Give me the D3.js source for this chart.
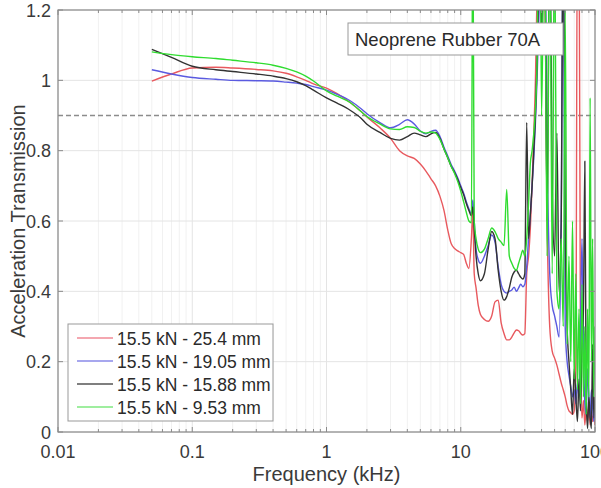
<!DOCTYPE html>
<html>
<head>
<meta charset="utf-8">
<script src="https://cdn.jsdelivr.net/npm/d3@7"></script>
<style>
  html, body { margin: 0; padding: 0; background: #fff; }
  svg { display: block; font-family: "Liberation Sans", Arial, Helvetica, sans-serif; }
</style>
</head>
<body>
<svg id="chart" width="601" height="488"></svg>
<script>
// ---------------- data ----------------
const freqKHz = [0.05,0.07,0.1,0.15,0.2,0.3,0.4,0.5,0.6,0.7,0.8,
  1,1.2,1.5,1.8,2,2.5,
  3,3.5,4,4.5,5,5.5,6,6.5,7,7.5,8,8.5,9,9.5,10,
  10.5,11,11.5,12,12.3,12.6,13,13.5,14,
  15,16,17,18,19,20,21,22,23,24,25,26,27,28,29,30,31,32,33,34,35,36,37,38,39,40,
  42,44,46,48,50,52,54,56,58,60,62,64,66,68,70,72,74,76,78,80,82,84,86,88,90,92,94,96,98,100];

const seriesNames = ["15.5 kN - 25.4 mm", "15.5 kN - 19.05 mm", "15.5 kN - 15.88 mm", "15.5 kN - 9.53 mm"];

const red254 = [0.998,1.018,1.035,1.037,1.035,1.031,1.027,1.02,1.01,1.0,0.99,
  0.978,0.962,0.937,0.912,0.896,0.865,
  0.835,0.80,0.785,0.778,0.762,0.742,0.72,0.70,0.67,0.63,0.575,0.535,0.522,0.515,0.51,
  0.505,0.48,0.465,0.55,0.63,0.45,0.41,0.36,0.335,
  0.32,0.315,0.33,0.37,0.375,0.31,0.28,0.262,0.262,0.27,0.282,0.29,0.288,0.28,0.276,0.28,0.45,0.5,0.58,0.7,0.85,1.0,1.25,1.5,1.5,1.5,
  1.4,0.6,0.3,0.23,0.21,0.19,0.165,0.14,0.12,0.1,0.075,0.06,0.055,0.05,0.06,0.2,1.5,1.5,0.2,0.04,0.09,0.02,0.07,0.03,0.08,0.02,0.06,0.03,0.05,0.02];

const blue1905 = [1.03,1.018,1.008,1.003,1.0,0.999,0.998,0.995,0.992,0.988,0.982,
  0.972,0.96,0.942,0.92,0.905,0.88,
  0.865,0.875,0.888,0.876,0.856,0.848,0.855,0.858,0.84,0.81,0.785,0.76,0.742,0.722,0.70,
  0.68,0.655,0.635,0.62,0.66,0.6,0.52,0.49,0.48,
  0.50,0.53,0.56,0.54,0.47,0.42,0.40,0.395,0.40,0.404,0.412,0.40,0.41,0.42,0.413,0.42,0.47,0.55,0.62,0.7,0.78,0.88,1.0,1.15,1.3,1.5,
  1.5,0.8,0.45,0.36,0.33,0.3,0.27,0.6,1.5,0.3,0.2,0.16,0.13,0.1,0.12,0.08,0.14,0.1,0.3,0.55,0.25,0.08,0.05,0.18,0.1,0.04,0.12,0.07,0.03,0.06];

const black1588 = [1.088,1.065,1.04,1.03,1.025,1.018,1.012,1.005,0.996,0.985,0.972,
  0.95,0.935,0.915,0.893,0.875,0.852,
  0.835,0.83,0.84,0.85,0.845,0.84,0.848,0.852,0.835,0.805,0.78,0.755,0.738,0.718,0.695,
  0.675,0.65,0.63,0.615,0.64,0.58,0.50,0.45,0.43,
  0.45,0.52,0.57,0.55,0.46,0.40,0.375,0.385,0.41,0.44,0.455,0.46,0.45,0.44,0.435,0.45,0.88,0.55,0.62,0.7,0.8,0.9,1.05,1.25,1.4,1.1,
  1.5,0.6,1.5,0.7,0.5,0.85,0.4,0.6,1.5,0.6,0.3,0.2,0.12,0.05,0.18,0.1,0.03,0.15,0.06,0.25,0.35,0.77,0.1,0.01,0.1,0.04,0.01,0.25,0.04,0.1];

const green953 = [1.081,1.073,1.067,1.062,1.057,1.05,1.043,1.034,1.024,1.012,0.998,
  0.97,0.955,0.937,0.912,0.897,0.876,
  0.862,0.86,0.868,0.866,0.855,0.85,0.853,0.85,0.832,0.805,0.78,0.755,0.735,0.712,0.685,
  0.655,0.625,0.6,0.595,1.5,0.6,0.55,0.52,0.51,
  0.52,0.55,0.58,0.57,0.55,0.54,0.53,0.69,0.5,0.48,0.465,0.46,0.48,0.5,0.517,0.5,0.55,0.65,0.765,0.8,0.85,0.92,1.05,1.5,1.5,0.9,
  1.5,0.5,1.5,0.45,1.5,0.4,0.35,0.55,0.3,1.2,0.25,0.5,0.2,0.6,0.15,0.45,0.12,0.35,0.08,0.42,0.1,0.3,0.05,0.35,0.1,0.95,0.2,0.55,0.1,0.3];

const xTickValues = [0.01, 0.1, 1, 10, 100];
const xTickLabels = ["0.01", "0.1", "1", "10", "100"];
const yTickValues = [0, 0.2, 0.4, 0.6, 0.8, 1, 1.2];
const yTickLabels = ["0", "0.2", "0.4", "0.6", "0.8", "1", "1.2"];
const referenceLevel = 0.9;
const annotationText = "Neoprene Rubber 70A";
const xTitle = "Frequency (kHz)";
const yTitle = "Acceleration Transmission";

// ---------------- layout ----------------
const L = 58, R = 595, T = 10, B = 432;
const colors = ["#e8595e", "#5a5ae0", "#333333", "#2fdc2f"];
const legendColors = ["#f08a96", "#8a8ae8", "#555555", "#7fe87f"];
const seriesValues = [red254, blue1905, black1588, green953];

const svg = d3.select("#chart");
const x = d3.scaleLog().domain([0.01, 100]).range([L, R]);
const y = d3.scaleLinear().domain([0, 1.2]).range([B, T]);

// minor ticks
const minorX = [];
for (let d = 0.01; d < 100; d *= 10) {
  for (let k = 2; k <= 9; k++) minorX.push(+(d * k).toPrecision(3));
}

// grid
const grid = svg.append("g");
grid.selectAll("line.minor").data(minorX).join("line")
  .attr("x1", d => x(d)).attr("x2", d => x(d)).attr("y1", T).attr("y2", B)
  .attr("stroke", "#f1f1f1").attr("stroke-width", 1);
grid.selectAll("line.majx").data(xTickValues).join("line")
  .attr("x1", d => x(d)).attr("x2", d => x(d)).attr("y1", T).attr("y2", B)
  .attr("stroke", "#e4e4e4").attr("stroke-width", 1);
grid.selectAll("line.majy").data(yTickValues).join("line")
  .attr("x1", L).attr("x2", R).attr("y1", d => y(d)).attr("y2", d => y(d))
  .attr("stroke", "#e4e4e4").attr("stroke-width", 1);

// clip
svg.append("clipPath").attr("id", "plotclip")
  .append("rect").attr("x", L).attr("y", T).attr("width", R - L).attr("height", B - T);

// dashed reference line
svg.append("line")
  .attr("x1", L).attr("x2", R).attr("y1", y(referenceLevel)).attr("y2", y(referenceLevel))
  .attr("stroke", "#8c8c8c").attr("stroke-width", 1.3).attr("stroke-dasharray", "5,3");

// data lines
const line = d3.line().x(d => x(d[0])).y(d => y(d[1])).curve(d3.curveMonotoneX);
const dataG = svg.append("g").attr("clip-path", "url(#plotclip)");
seriesValues.forEach((vals, i) => {
  const pts = freqKHz.map((f, j) => [f, vals[j]]);
  dataG.append("path").datum(pts)
    .attr("d", line)
    .attr("fill", "none")
    .attr("stroke", colors[i])
    .attr("stroke-width", 1.4)
    .attr("stroke-linejoin", "round");
});

// box
const axisColor = "#8a8a8a";
svg.append("rect").attr("x", L).attr("y", T).attr("width", R - L).attr("height", B - T)
  .attr("fill", "none").attr("stroke", axisColor).attr("stroke-width", 1.2);

// ticks
const tk = svg.append("g").attr("stroke", axisColor).attr("stroke-width", 1);
xTickValues.forEach(v => {
  tk.append("line").attr("x1", x(v)).attr("x2", x(v)).attr("y1", B).attr("y2", B - 5);
  tk.append("line").attr("x1", x(v)).attr("x2", x(v)).attr("y1", T).attr("y2", T + 5);
});
minorX.forEach(v => {
  tk.append("line").attr("x1", x(v)).attr("x2", x(v)).attr("y1", B).attr("y2", B - 3);
  tk.append("line").attr("x1", x(v)).attr("x2", x(v)).attr("y1", T).attr("y2", T + 3);
});
yTickValues.forEach(v => {
  tk.append("line").attr("x1", L).attr("x2", L + 5).attr("y1", y(v)).attr("y2", y(v));
  tk.append("line").attr("x1", R).attr("x2", R - 5).attr("y1", y(v)).attr("y2", y(v));
});

// tick labels
const textColor = "#3a3a3a";
svg.append("g").selectAll("text").data(xTickValues).join("text")
  .attr("x", d => x(d)).attr("y", 458)
  .attr("text-anchor", "middle").attr("font-size", 18).attr("fill", textColor)
  .text((d, i) => xTickLabels[i]);
svg.append("g").selectAll("text").data(yTickValues).join("text")
  .attr("x", 51).attr("y", d => y(d) + 6.5)
  .attr("text-anchor", "end").attr("font-size", 18).attr("fill", textColor)
  .text((d, i) => yTickLabels[i]);

// axis titles
svg.append("text").attr("x", (L + R) / 2).attr("y", 481)
  .attr("text-anchor", "middle").attr("font-size", 20).attr("fill", textColor)
  .text(xTitle);
svg.append("text").attr("transform", `translate(25,${(T + B) / 2}) rotate(-90)`)
  .attr("text-anchor", "middle").attr("font-size", 20).attr("fill", textColor)
  .text(yTitle);

// annotation box
svg.append("rect").attr("x", 348).attr("y", 23).attr("width", 215).attr("height", 32)
  .attr("fill", "#fff").attr("stroke", "#999").attr("stroke-width", 1);
svg.append("text").attr("x", 355).attr("y", 46)
  .attr("font-size", 18.5).attr("fill", "#2a2a2a").text(annotationText);

// legend
const lg = svg.append("g");
lg.append("rect").attr("x", 68).attr("y", 324).attr("width", 205).attr("height", 97)
  .attr("fill", "#fff").attr("stroke", "#999").attr("stroke-width", 1);
const rowY = [338, 361, 384, 407];
seriesNames.forEach((name, i) => {
  lg.append("line").attr("x1", 77).attr("x2", 113).attr("y1", rowY[i]).attr("y2", rowY[i])
    .attr("stroke", legendColors[i]).attr("stroke-width", 1.6);
  lg.append("text").attr("x", 117).attr("y", rowY[i] + 7)
    .attr("font-size", 17.5).attr("fill", "#2a2a2a").text(name);
});
</script>
</body>
</html>
